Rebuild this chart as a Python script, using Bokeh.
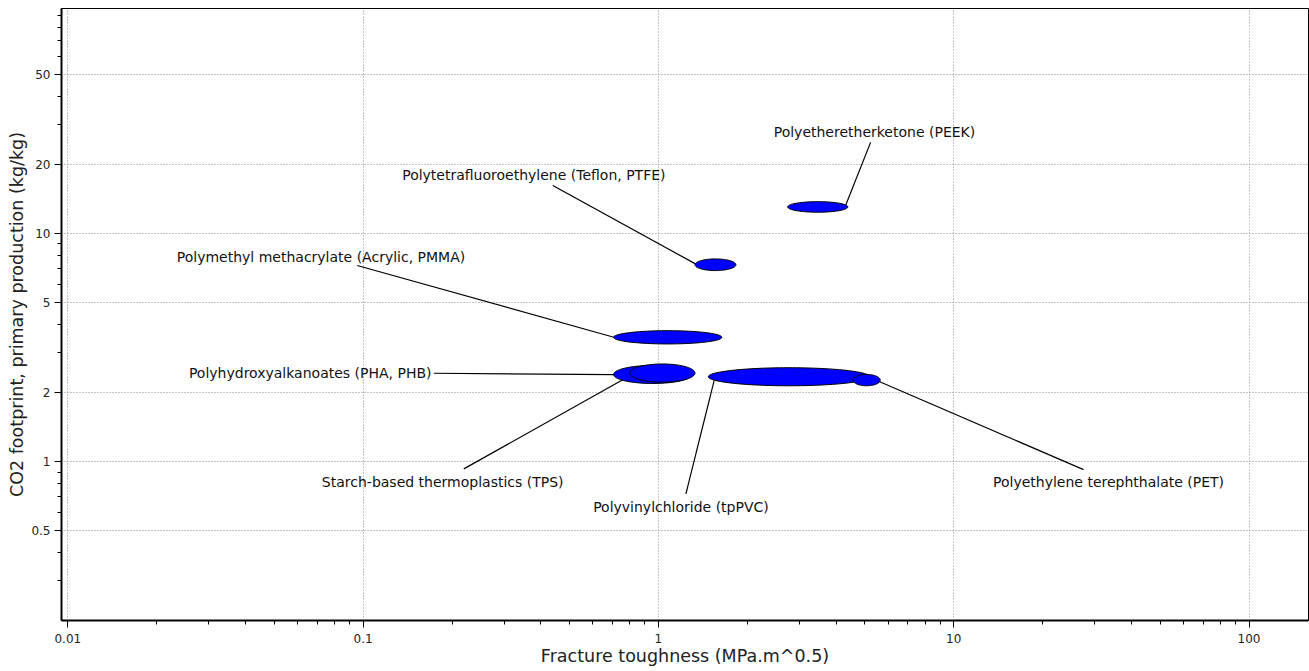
import numpy as np
from bokeh.plotting import figure
from bokeh.models import FixedTicker, CustomJSTickFormatter, ColumnDataSource, Range1d
from bokeh.core.properties import value
from bokeh.embed import file_html
from bokeh.resources import INLINE

# ---- data (ranges) ----
materials = ["Polyetheretherketone (PEEK)", "Polytetrafluoroethylene (Teflon, PTFE)",
             "Polymethyl methacrylate (Acrylic, PMMA)", "Polyhydroxyalkanoates (PHA, PHB)",
             "Starch-based thermoplastics (TPS)", "Polyvinylchloride (tpPVC)",
             "Polyethylene terephthalate (PET)"]
k_low = [2.74, 1.33, 0.705, 0.705, 0.80, 1.475, 4.56]
k_high = [4.38, 1.83, 1.64, 1.30, 1.33, 5.2, 5.64]
co2_low = [12.4, 6.88, 3.28, 2.20, 2.23, 2.15, 2.15]
co2_high = [13.8, 7.74, 3.75, 2.64, 2.68, 2.58, 2.41]

# label anchors and leader lines (data coordinates)
label_x = [5.39, 0.3786, 0.0720, 0.0662, 0.186, 1.192, 33.44]
label_y = [27.8, 17.97, 7.87, 2.44, 0.811, 0.630, 0.817]
lead_x0 = [5.23, 0.4389, 0.0955, 0.1736, 0.2193, 1.239, 27.52]
lead_y0 = [25.1, 16.24, 7.24, 2.44, 0.929, 0.722, 0.922]
lead_x1 = [4.28, 1.335, 0.7063, 0.7063, 0.784, 1.544, 5.59]
lead_y1 = [13.04, 7.36, 3.51, 2.408, 2.343, 2.266, 2.244]

x_ticks = [0.01, 0.1, 1, 10, 100]
y_ticks = [0.5, 1, 2, 5, 10, 20, 50]
minor = [m * 10.0 ** e for e in range(-3, 4) for m in range(2, 10)]

# ---- figure ----
p = figure(width=1309, height=671, x_axis_type="log", y_axis_type="log",
           x_range=Range1d(0.00952, 159), y_range=Range1d(0.201, 97),
           output_backend="svg", toolbar_location=None,
           min_border_left=61, min_border_right=1, min_border_top=8, min_border_bottom=51)
p.background_fill_color = "white"
p.border_fill_color = "white"
p.outline_line_color = "black"
p.outline_line_width = 1

fmt = CustomJSTickFormatter(code="return String(Number(tick.toPrecision(6)));")
p.xaxis.ticker = FixedTicker(ticks=x_ticks, minor_ticks=minor)
p.yaxis.ticker = FixedTicker(ticks=y_ticks, minor_ticks=minor)
p.xaxis.formatter = fmt
p.yaxis.formatter = fmt
p.xgrid.ticker = FixedTicker(ticks=x_ticks)
p.ygrid.ticker = FixedTicker(ticks=y_ticks)
for g in (p.xgrid, p.ygrid):
    g.grid_line_color = "#8a8a8a"
    g.grid_line_dash = "1 2"
    g.grid_line_width = 1

for ax in (p.xaxis, p.yaxis):
    ax.axis_line_color = "black"
    ax.axis_line_width = 2
    ax.major_tick_line_color = "black"
    ax.minor_tick_line_color = "black"
    ax.major_tick_in = 0
    ax.minor_tick_in = 0
    ax.major_tick_out = 7
    ax.minor_tick_out = 4
    ax.major_label_text_font = "DejaVu Sans"
    ax.major_label_text_font_size = "12px"
    ax.major_label_text_color = "#222222"
    ax.axis_label_text_font = "DejaVu Sans"
    ax.axis_label_text_font_size = "17.5px"
    ax.axis_label_text_font_style = "normal"
    ax.axis_label_text_color = "#222222"

p.xaxis.axis_label = "Fracture toughness (MPa.m^0.5)"
p.yaxis.axis_label = "CO2 footprint, primary production (kg/kg)"
p.xaxis.axis_label_standoff = 0
p.yaxis.axis_label_standoff = 1
p.xaxis.major_label_standoff = 6
p.yaxis.major_label_standoff = 4

# ---- leader lines ----
p.segment(x0=lead_x0, y0=lead_y0, x1=lead_x1, y1=lead_y1, line_color="black", line_width=1.2)

# ---- ellipses (in log space) ----
t = np.linspace(0, 2 * np.pi, 120)
xs, ys = [], []
for kl, kh, cl, ch in zip(k_low, k_high, co2_low, co2_high):
    cx = (np.log10(kl) + np.log10(kh)) / 2
    rx = (np.log10(kh) - np.log10(kl)) / 2
    cy = (np.log10(cl) + np.log10(ch)) / 2
    ry = (np.log10(ch) - np.log10(cl)) / 2
    xs.append(list(10 ** (cx + rx * np.cos(t))))
    ys.append(list(10 ** (cy + ry * np.sin(t))))
p.patches(xs=xs, ys=ys, fill_color="#0000ff", line_color="black", line_width=1)

# ---- labels ----
src = ColumnDataSource(dict(x=label_x, y=label_y, text=materials))
p.text(x="x", y="y", text="text", source=src, text_align="center", text_baseline="middle",
       text_font=value("DejaVu Sans"), text_font_size="14px", text_color="#111111")

open("out.html", "w").write(file_html(p, INLINE))
